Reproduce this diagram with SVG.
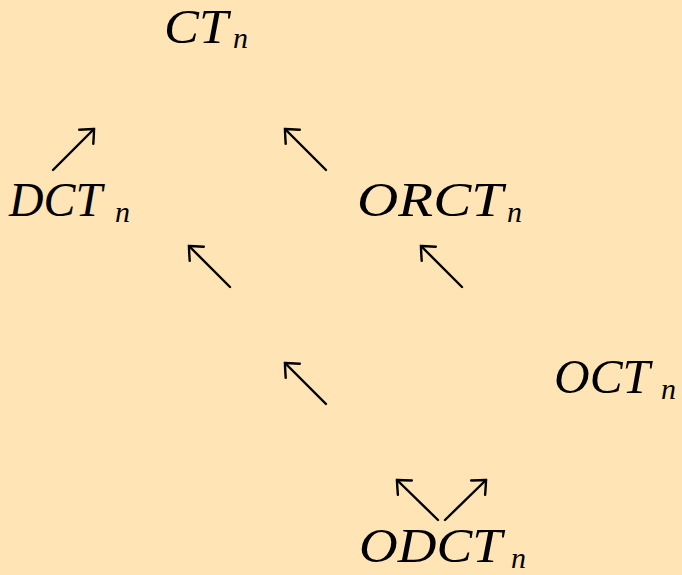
<svg xmlns="http://www.w3.org/2000/svg" width="682" height="575" viewBox="0 0 682 575">
<defs>
<style>
.lbl{font-family:"Liberation Serif","DejaVu Serif",serif;font-style:italic;font-size:48px;fill:#000}
.sub{font-family:"Liberation Serif","DejaVu Serif",serif;font-style:italic;font-size:30px;fill:#000}
.arr{stroke:#000;stroke-width:2.4;fill:none;stroke-linecap:round;marker-end:url(#head)}
</style>
<marker id="head" markerUnits="userSpaceOnUse" orient="auto" markerWidth="30" markerHeight="30" refX="0" refY="0" viewBox="-15 -15 30 30" overflow="visible">
<path d="M-11,-10 Q-3,-3 0,0 Q-3,3 -11,10" fill="none" stroke="#000" stroke-width="2.4" stroke-linecap="round"/>
</marker>
</defs>
<rect width="682" height="575" fill="#FFE4B5"/>
<g id="connectors">
<path class="arr" d="M53,170 L94,129"/>
<path class="arr" d="M326,170 L285,129"/>
<path class="arr" d="M230,287 L189,246"/>
<path class="arr" d="M462,287 L421,246"/>
<path class="arr" d="M326,404 L285,363"/>
<path class="arr" d="M438,520 L397,480"/>
<path class="arr" d="M445,520 L486,480"/>
</g>
<g id="CT"><text class="lbl" x="164" y="43" textLength="64" lengthAdjust="spacingAndGlyphs">CT</text><text class="sub" x="233" y="48">n</text></g>
<g id="DCT"><text class="lbl" x="9" y="216" textLength="93" lengthAdjust="spacingAndGlyphs">DCT</text><text class="sub" x="115" y="222">n</text></g>
<g id="ORCT"><text class="lbl" x="357" y="216" textLength="146" lengthAdjust="spacingAndGlyphs">ORCT</text><text class="sub" x="507" y="222">n</text></g>
<g id="OCT"><text class="lbl" x="554" y="393" textLength="96" lengthAdjust="spacingAndGlyphs">OCT</text><text class="sub" x="661" y="399">n</text></g>
<g id="ODCT"><text class="lbl" x="359" y="562" textLength="143" lengthAdjust="spacingAndGlyphs">ODCT</text><text class="sub" x="511" y="568">n</text></g>
</svg>
